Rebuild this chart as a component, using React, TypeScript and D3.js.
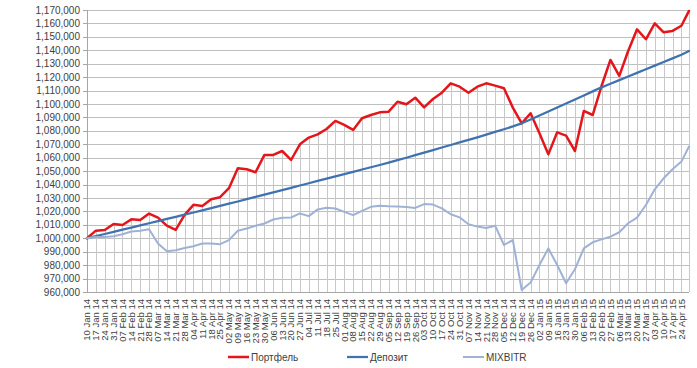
import React from "react";
import * as d3 from "d3";

const tickLabels = [
  "10 Jan 14","17 Jan 14","24 Jan 14","31 Jan 14","07 Feb 14","14 Feb 14","21 Feb 14","28 Feb 14",
  "07 Mar 14","14 Mar 14","21 Mar 14","28 Mar 14","04 Apr 14","11 Apr 14","18 Apr 14","25 Apr 14",
  "02 May 14","09 May 14","16 May 14","23 May 14","30 May 14","06 Jun 14","13 Jun 14","20 Jun 14",
  "27 Jun 14","04 Jul 14","11 Jul 14","18 Jul 14","25 Jul 14","01 Aug 14","08 Aug 14","15 Aug 14",
  "22 Aug 14","29 Aug 14","05 Sep 14","12 Sep 14","19 Sep 14","26 Sep 14","03 Oct 14","10 Oct 14",
  "17 Oct 14","24 Oct 14","31 Oct 14","07 Nov 14","14 Nov 14","21 Nov 14","28 Nov 14","05 Dec 14",
  "12 Dec 14","19 Dec 14","26 Dec 14","02 Jan 15","09 Jan 15","16 Jan 15","23 Jan 15","30 Jan 15",
  "06 Feb 15","13 Feb 15","20 Feb 15","27 Feb 15","06 Mar 15","13 Mar 15","20 Mar 15","27 Mar 15",
  "03 Apr 15","10 Apr 15","17 Apr 15","24 Apr 15",
];
const lastDate = "30 Apr 15";
const pointDates = [...tickLabels, lastDate];

const portfolio = [
  1000000,1005700,1006200,1010700,1009900,1014100,1013600,1018400,1015400,1009400,
  1006200,1017400,1024900,1024100,1029100,1030600,1037300,1052200,1051400,1049200,
  1062100,1062100,1065000,1058300,1070000,1075000,1077400,1081400,1087400,1084400,
  1080700,1089400,1091800,1093800,1094300,1101700,1099800,1104700,1097500,1103700,
  1108400,1115400,1112900,1108400,1112900,1115400,1113700,1111700,1097300,1085600,
  1093100,1078200,1062500,1078900,1076400,1065000,1094800,1091800,1113400,1132800,
  1120900,1139500,1155600,1148200,1160100,1153400,1154400,1158300,
  1169300,
];
const deposit = [
  1000000,1001600,1003200,1004800,1006400,1008000,1009600,1011200,1012800,1014400,
  1016000,1017600,1019200,1020800,1022500,1024100,1025800,1027400,1029100,1030800,
  1032500,1034200,1035900,1037600,1039300,1041000,1042700,1044400,1046100,1047800,
  1049500,1051200,1052900,1054600,1056400,1058200,1060000,1061900,1063800,1065700,
  1067600,1069500,1071400,1073300,1075200,1077200,1079200,1081200,1083300,1085600,
  1088500,1091400,1094400,1097400,1100400,1103400,1106400,1109400,1112400,1115100,
  1117800,1120500,1123200,1125900,1128600,1131300,1134000,1136700,
  1139500,
];
const mixbitr = [
  1000000,1001000,1001000,1001500,1003000,1005000,1005600,1006800,996100,990400,
  991100,992800,994100,996100,996100,995600,998600,1005600,1007300,1009300,
  1011000,1014000,1015300,1015500,1018500,1016500,1021500,1022700,1022200,1019700,
  1017200,1020400,1023400,1024200,1023800,1023600,1023300,1022600,1025500,1025100,
  1022300,1017900,1015600,1010400,1008700,1007700,1009400,995000,998700,961500,
  967000,980100,992500,980100,966500,976900,992500,997000,999200,1001200,
  1004500,1011200,1015400,1024800,1036500,1044700,1051400,1057100,
  1068300,
];

const yMin = 960000;
const yMax = 1170000;
const yStep = 10000;

const seriesNames = ["Портфель", "Депозит", "MIXBITR"];

export default function App() {
  const W = 697, H = 368;
  const parse = d3.timeParse("%d %b %y");
  const dates = pointDates.map((s) => parse(s) as Date);
  const tickDates = tickLabels.map((s) => parse(s) as Date);

  const x = d3.scaleTime().domain([dates[0], dates[dates.length - 1]]).range([87, 689]);
  const y = d3.scaleLinear().domain([yMin, yMax]).range([292, 10]);
  const yTicks = d3.range(yMin, yMax + 1, yStep);
  const fmt = d3.format(",");

  const series = [
    { name: seriesNames[0], values: portfolio, color: "#E3161C", width: 2.5 },
    { name: seriesNames[1], values: deposit, color: "#3F72AF", width: 2.25 },
    { name: seriesNames[2], values: mixbitr, color: "#9FB2D6", width: 2 },
  ];

  const line = (vals: number[]) =>
    d3.line<number>()
      .x((_, i) => x(dates[i]))
      .y((v) => y(v))(vals) as string;

  const font = "'Liberation Sans', Arial, sans-serif";
  const legendItems = [
    { x0: 228, ...series[0] },
    { x0: 347, ...series[1] },
    { x0: 463, ...series[2] },
  ];

  return (
    <svg width={W} height={H} style={{ position: "absolute", left: 0, top: 0, display: "block", background: "#fff" }}>
      {yTicks.map((t) => (
        <line key={"g" + t} x1={87} x2={689} y1={Math.round(y(t)) + 0.5} y2={Math.round(y(t)) + 0.5}
          stroke="#BFBFBF" strokeWidth={1} />
      ))}
      {dates.map((d, i) => {
        const top = Math.max(portfolio[i], deposit[i], mixbitr[i]);
        const xx = Math.round(x(d)) + 0.5;
        return <line key={"d" + i} x1={xx} x2={xx} y1={y(top)} y2={y(yMin)} stroke="#C8C8C8" strokeWidth={1} />;
      })}
      <line x1={87.5} x2={87.5} y1={y(yMax)} y2={y(yMin)} stroke="#A6A6A6" strokeWidth={1} />
      {yTicks.map((t) => (
        <g key={"t" + t}>
          <line x1={83} x2={87} y1={Math.round(y(t)) + 0.5} y2={Math.round(y(t)) + 0.5} stroke="#A6A6A6" />
          <text x={80} y={y(t)} dy="0.35em" textAnchor="end" fontFamily={font} fontSize={10} fill="#404040">
            {fmt(t)}
          </text>
        </g>
      ))}
      <line x1={87} x2={689} y1={Math.round(y(yMin)) + 0.5} y2={Math.round(y(yMin)) + 0.5} stroke="#A6A6A6" />
      {tickDates.map((d, i) => (
        <text key={"x" + i} transform={`translate(${x(d)},299) rotate(-90)`} dy="0.35em" textAnchor="end"
          fontFamily={font} fontSize={9.5} fill="#404040">
          {tickLabels[i]}
        </text>
      ))}
      {series.map((s) => (
        <path key={s.name} d={line(s.values)} fill="none" stroke={s.color} strokeWidth={s.width}
          strokeLinejoin="round" strokeLinecap="round" />
      ))}
      {legendItems.map((s) => (
        <g key={"l" + s.name}>
          <line x1={s.x0} x2={s.x0 + 21} y1={357} y2={357} stroke={s.color} strokeWidth={s.width} />
          <text x={s.x0 + 23} y={357} dy="0.35em" fontFamily={font} fontSize={10} fill="#404040">{s.name}</text>
        </g>
      ))}
    </svg>
  );
}
